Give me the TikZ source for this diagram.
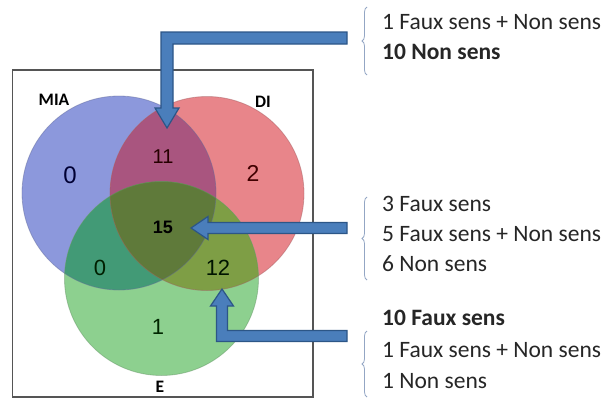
\documentclass[tikz,border=0pt]{standalone}
\usepackage{fontspec}
\setmainfont{Carlito}
\newfontfamily\numfont{Liberation Sans}
\usetikzlibrary{calc,decorations.pathreplacing}
\definecolor{cblue}{HTML}{8C98DC}
\definecolor{cred}{HTML}{E8858A}
\definecolor{cgreen}{HTML}{8DD08F}
\definecolor{cBR}{HTML}{A9557F}
\definecolor{cBG}{HTML}{429A76}
\definecolor{cRG}{HTML}{7E9E45}
\definecolor{cBRG}{HTML}{5F7A3A}
\definecolor{arrfill}{HTML}{4A7EBB}
\definecolor{arrline}{HTML}{2C5687}
\definecolor{bracecol}{HTML}{93A6C4}
\definecolor{boxcol}{HTML}{555555}
\tikzset{
  arrowshape/.style={fill=arrfill, draw=arrline, line width=1.2pt, line join=miter},
  bracestyle/.style={draw=bracecol, line width=0.8pt, decorate, decoration={brace, amplitude=5pt, aspect=0.5}},
  txt/.style={anchor=west, inner sep=0pt, font=\fontsize{23.5}{25}\selectfont, text=black!85},
  txtb/.style={txt, font=\fontsize{23.5}{25}\selectfont\bfseries},
  setlbl/.style={inner sep=0pt, font=\fontsize{17.5}{19}\selectfont\bfseries},
  num/.style={inner sep=0pt, font=\numfont\fontsize{22}{24}\selectfont},
  edge/.style={line width=0.8pt, opacity=0.45}
}
\begin{document}
\begin{tikzpicture}[x=1pt,y=-1pt]
\useasboundingbox (0,0) rectangle (606,407);
% frame
\draw[boxcol, line width=1.3pt] (12.5,70) rectangle (313,397);
% circles
\coordinate (cB) at (119,193);
\coordinate (cR) at (207,193.5);
\coordinate (cG) at (161.5,278.5);
\fill[cblue] (cB) circle[radius=97pt];
\fill[cred] (cR) circle[radius=97pt];
\fill[cgreen] (cG) circle[radius=97pt];
\begin{scope}\clip (cB) circle[radius=97pt]; \fill[cBR] (cR) circle[radius=97pt];\end{scope}
\begin{scope}\clip (cB) circle[radius=97pt]; \fill[cBG] (cG) circle[radius=97pt];\end{scope}
\begin{scope}\clip (cR) circle[radius=97pt]; \fill[cRG] (cG) circle[radius=97pt];\end{scope}
\begin{scope}\clip (cB) circle[radius=97pt]; \clip (cR) circle[radius=97pt]; \fill[cBRG] (cG) circle[radius=97pt];\end{scope}
\draw[edge, cblue!70!black] (cB) circle[radius=97pt];
\draw[edge, cred!70!black] (cR) circle[radius=97pt];
\draw[edge, cgreen!70!black] (cG) circle[radius=97pt];
% set labels
\node[setlbl] (lMIA) at (54,100) {MIA};
\node[setlbl] (lDI) at (263,102) {DI};
\node[setlbl] (lE) at (160,387) {E};
% numbers
\node[num, text=black!80!blue, font=\numfont\fontsize{24}{26}\selectfont] (n0a) at (70,175) {0};
\node[num, text=black!85!red, font=\numfont\fontsize{20}{22}\selectfont] (n11) at (163,157) {11};
\node[num, text=black!75!red, font=\numfont\fontsize{23}{25}\selectfont] (n2) at (253,173) {2};
\node[num, text=black, font=\numfont\fontsize{18}{20}\selectfont\bfseries] (n15) at (163,227) {15};
\node[num, text=black!88!green] (n0b) at (100,268) {0};
\node[num, text=black!92!green] (n12) at (218,268) {12};
\node[num, text=black!85!green] (n1) at (158,327) {1};
% arrows
\coordinate (s1) at (347,38);
\coordinate (t1) at (167,128);
\coordinate (s2) at (347,228);
\coordinate (t2) at (191,228);
\coordinate (s3) at (347,336);
\coordinate (t3) at (222,289);
\path[arrowshape] let \p1=(s1), \p2=(t1) in
  (\x1,\y1+6pt) -- (\x2-6pt,\y1+6pt) -- (\x2-6pt,\y2+20pt) -- (\x2-12pt,\y2+20pt) -- (\x2,\y2)
  -- (\x2+12pt,\y2+20pt) -- (\x2+6pt,\y2+20pt) -- (\x2+6pt,\y1-6pt) -- (\x1,\y1-6pt) -- cycle;
\path[arrowshape] let \p1=(s2), \p2=(t2) in
  (\x1,\y1+5.5pt) -- (\x2+17pt,\y1+5.5pt) -- (\x2+17pt,\y2+11.5pt) -- (\x2,\y2)
  -- (\x2+17pt,\y2-11.5pt) -- (\x2+17pt,\y1-5.5pt) -- (\x1,\y1-5.5pt) -- cycle;
\path[arrowshape] let \p1=(s3), \p2=(t3) in
  (\x1,\y1+5.5pt) -- (\x2+5.5pt,\y1+5.5pt) -- (\x2+5.5pt,\y2-17pt) -- (\x2+11.5pt,\y2-17pt) -- (\x2,\y2)
  -- (\x2-11.5pt,\y2-17pt) -- (\x2-5.5pt,\y2-17pt) -- (\x2-5.5pt,\y1-5.5pt) -- (\x1,\y1-5.5pt) -- cycle;
% braces
\coordinate (b1a) at (367,75); \coordinate (b1b) at (367,7);
\coordinate (b2a) at (367,280); \coordinate (b2b) at (367,197);
\coordinate (b3a) at (367,397); \coordinate (b3b) at (367,331);
\draw[bracestyle] (b1a) -- (b1b);
\draw[bracestyle] (b2a) -- (b2b);
\draw[bracestyle] (b3a) -- (b3b);
% texts
\node[txt] (x1a) at (382,22) {1 Faux sens + Non sens};
\node[txtb] (x1b) at (382,52) {10 Non sens};
\node[txt] (x2a) at (382,204) {3 Faux sens};
\node[txt] (x2b) at (382,234) {5 Faux sens + Non sens};
\node[txt] (x2c) at (382,264) {6 Non sens};
\node[txtb] (x3a) at (382,318) {10 Faux sens};
\node[txt] (x3b) at (382,350) {1 Faux sens + Non sens};
\node[txt] (x3c) at (382,381) {1 Non sens};
\end{tikzpicture}
\end{document}
